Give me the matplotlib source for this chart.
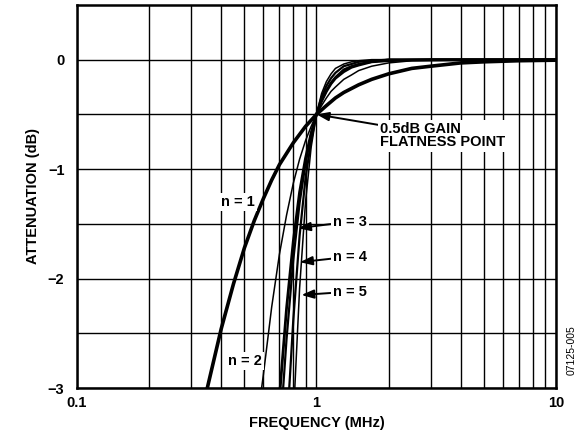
import matplotlib.pyplot as plt

plt.rcParams['font.family'] = ['Liberation Sans', 'DejaVu Sans']

# frequency (MHz) / attenuation (dB), one pair of lists per curve
freq_n1 = [0.30, 0.35, 0.40, 0.45, 0.50, 0.55, 0.60, 0.65, 0.70, 0.80, 0.90, 1.0, 1.1, 1.2, 1.3,
           1.5, 1.7, 2.0, 2.5, 3.0, 4.0, 5.0, 7.0, 10.0]
att_n1 = [-3.59, -3.00, -2.46, -2.05, -1.72, -1.47, -1.27, -1.10, -0.96, -0.76, -0.61, -0.50, -0.42,
          -0.35, -0.30, -0.23, -0.18, -0.13, -0.08, -0.06, -0.03, -0.02, -0.01, -0.005]

freq_n2 = [0.58, 0.60, 0.65, 0.70, 0.75, 0.80, 0.85, 0.90, 0.95, 1.0, 1.05, 1.1, 1.15, 1.2, 1.3,
           1.4, 1.5, 1.7, 2.0, 2.5, 3.0, 10.0]
att_n2 = [-3.12, -2.88, -2.26, -1.78, -1.42, -1.13, -0.91, -0.74, -0.61, -0.50, -0.42, -0.35, -0.29,
          -0.25, -0.18, -0.14, -0.10, -0.06, -0.03, -0.01, -0.01, 0.0]

freq_n3 = [0.70, 0.75, 0.80, 0.85, 0.90, 0.95, 1.0, 1.05, 1.1, 1.15, 1.2, 1.3, 1.4, 1.5, 1.7, 2.0,
           3.0, 10.0]
att_n3 = [-3.09, -2.27, -1.66, -1.21, -0.90, -0.67, -0.50, -0.38, -0.29, -0.22, -0.17, -0.11, -0.07,
          -0.05, -0.02, -0.01, 0.0, 0.0]

freq_n3b = [0.72, 0.75, 0.80, 0.85, 0.90, 0.95, 1.0, 1.05, 1.1, 1.15, 1.2, 1.3, 1.4, 1.5, 1.7, 2.0,
            10.0]
att_n3b = [-3.11, -2.55, -1.83, -1.31, -0.95, -0.68, -0.50, -0.37, -0.28, -0.21, -0.16, -0.09, -0.06,
           -0.04, -0.02, 0.0, 0.0]

freq_n4 = [0.76, 0.80, 0.85, 0.90, 0.95, 1.0, 1.05, 1.1, 1.15, 1.2, 1.3, 1.4, 1.5, 1.7, 2.0, 10.0]
att_n4 = [-3.20, -2.38, -1.61, -1.08, -0.74, -0.50, -0.34, -0.24, -0.17, -0.12, -0.06, -0.04, -0.02,
          -0.01, 0.0, 0.0]

freq_n5 = [0.80, 0.85, 0.90, 0.95, 1.0, 1.05, 1.1, 1.15, 1.2, 1.3, 1.4, 1.5, 1.7, 10.0]
att_n5 = [-3.29, -2.09, -1.30, -0.80, -0.50, -0.31, -0.20, -0.13, -0.08, -0.04, -0.02, -0.01, 0.0, 0.0]

curves = [
    (freq_n1, att_n1, 2.6),
    (freq_n2, att_n2, 1.1),
    (freq_n3, att_n3, 2.0),
    (freq_n3b, att_n3b, 1.6),
    (freq_n4, att_n4, 1.6),
    (freq_n5, att_n5, 1.1),
]

FS = 10.5

fig = plt.figure(figsize=(5.82, 4.46), dpi=100)
ax = fig.add_axes([0.1323, 0.130, 0.823, 0.859])

for f, a, lw in curves:
    ax.plot(f, a, color='black', lw=lw, solid_capstyle='butt', solid_joinstyle='round', zorder=3)

ax.set_xscale('log')
ax.set_xlim(0.1, 10)
ax.set_ylim(-3, 0.5)

ax.set_xticks([0.1, 1, 10])
ax.set_xticklabels(['0.1', '1', '10'])
ax.set_xticks([0.2, 0.3, 0.4, 0.5, 0.6, 0.7, 0.8, 0.9, 2, 3, 4, 5, 6, 7, 8, 9], minor=True)
ax.set_xticklabels([], minor=True)
ax.set_yticks([-3, -2, -1, 0])
ax.set_yticklabels(['\u22123', '\u22122', '\u22121', '0'])
ax.set_yticks([-2.5, -1.5, -0.5], minor=True)
ax.grid(True, which='both', color='black', lw=1.0)
ax.tick_params(which='both', length=0, labelsize=FS)
ax.tick_params(axis='y', pad=9)
ax.tick_params(axis='x', pad=6)
for lab in ax.get_xticklabels() + ax.get_yticklabels():
    lab.set_fontweight('bold')
for sp in ax.spines.values():
    sp.set_linewidth(1.8)

ax.set_xlabel('FREQUENCY (MHz)', fontsize=FS, fontweight='bold', labelpad=4)
ax.set_ylabel('ATTENUATION (dB)', fontsize=FS, fontweight='bold', labelpad=6)

box = dict(facecolor='white', edgecolor='none', pad=1.5)
arrow = dict(arrowstyle='-|>,head_length=0.7,head_width=0.25', color='black', lw=1.4,
             shrinkA=0, shrinkB=0)

ax.annotate('0.5dB GAIN\nFLATNESS POINT', xy=(1.0, -0.5), xytext=(1.84, -0.57),
            fontsize=FS, fontweight='bold', va='top', ha='left', linespacing=0.95,
            bbox=box, arrowprops=arrow, zorder=5)

ax.text(0.47, -1.30, 'n = 1', fontsize=FS, fontweight='bold',
        ha='center', va='center', bbox=box, zorder=5)
ax.text(0.59, -2.75, 'n = 2', fontsize=FS, fontweight='bold',
        ha='right', va='center', bbox=box, zorder=5)

for label, ty, px, py in [('n = 3', -1.48, 0.837, -1.54),
                          ('n = 4', -1.80, 0.853, -1.85),
                          ('n = 5', -2.12, 0.865, -2.15)]:
    ax.annotate(label, xy=(px, py), xytext=(1.17, ty), fontsize=FS, fontweight='bold',
                ha='left', va='center', bbox=box, arrowprops=arrow, zorder=5)

fig.text(0.983, 0.215, '07125-005', rotation=90, fontsize=7.5, ha='center', va='center')

fig.savefig('out.png', dpi=100)
